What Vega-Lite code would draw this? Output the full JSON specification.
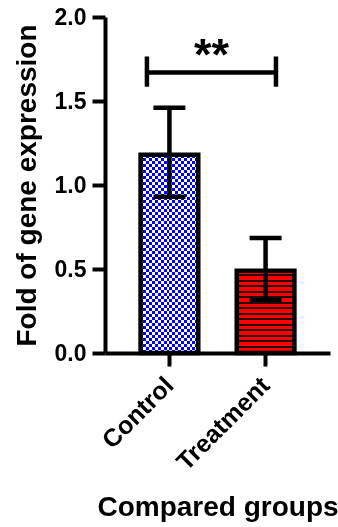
{
  "$schema": "https://vega.github.io/schema/vega-lite/v6.json",
  "width": 225,
  "height": 336,
  "autosize": {"type": "none"},
  "padding": {"left": 105, "top": 17, "right": 8, "bottom": 174},
  "background": "white",
  "config": {
    "view": {"stroke": null},
    "font": "Liberation Sans",
    "axis": {
      "domainColor": "black",
      "domainWidth": 4,
      "tickColor": "black",
      "tickWidth": 4,
      "tickSize": 13,
      "grid": false,
      "labelColor": "black",
      "labelFont": "Liberation Sans",
      "labelFontWeight": "bold",
      "labelFontSize": 23,
      "titleColor": "black",
      "titleFont": "Liberation Sans",
      "titleFontWeight": "bold",
      "titleFontSize": 28
    }
  },
  "datasets": {
    "bars": [
      {"group": "Control", "mean": 1.18, "lo": 0.93, "hi": 1.46},
      {"group": "Treatment", "mean": 0.49, "lo": 0.315, "hi": 0.685}
    ],
    "sig": [
      {"from": "Control", "to": "Treatment", "y": 1.67, "ylo": 1.585, "yhi": 1.765, "ytext": 1.765, "label": "**"}
    ]
  },
  "layer": [
    {
      "data": {"name": "bars"},
      "transform": [{"filter": "datum.group === 'Control'"}],
      "mark": {
        "type": "bar",
        "strokeWidth": 0,
        "fill": {
          "gradient": "linear", "x1": 0, "y1": 0, "x2": 1, "y2": 0,
          "stops": [
            {"offset": 0, "color": "#0000ff"}, {"offset": 0.05, "color": "#0000ff"},
            {"offset": 0.05, "color": "#ffffff"}, {"offset": 0.1, "color": "#ffffff"},
            {"offset": 0.1, "color": "#0000ff"}, {"offset": 0.15, "color": "#0000ff"},
            {"offset": 0.15, "color": "#ffffff"}, {"offset": 0.2, "color": "#ffffff"},
            {"offset": 0.2, "color": "#0000ff"}, {"offset": 0.25, "color": "#0000ff"},
            {"offset": 0.25, "color": "#ffffff"}, {"offset": 0.3, "color": "#ffffff"},
            {"offset": 0.3, "color": "#0000ff"}, {"offset": 0.35, "color": "#0000ff"},
            {"offset": 0.35, "color": "#ffffff"}, {"offset": 0.4, "color": "#ffffff"},
            {"offset": 0.4, "color": "#0000ff"}, {"offset": 0.45, "color": "#0000ff"},
            {"offset": 0.45, "color": "#ffffff"}, {"offset": 0.5, "color": "#ffffff"},
            {"offset": 0.5, "color": "#0000ff"}, {"offset": 0.55, "color": "#0000ff"},
            {"offset": 0.55, "color": "#ffffff"}, {"offset": 0.6, "color": "#ffffff"},
            {"offset": 0.6, "color": "#0000ff"}, {"offset": 0.65, "color": "#0000ff"},
            {"offset": 0.65, "color": "#ffffff"}, {"offset": 0.7, "color": "#ffffff"},
            {"offset": 0.7, "color": "#0000ff"}, {"offset": 0.75, "color": "#0000ff"},
            {"offset": 0.75, "color": "#ffffff"}, {"offset": 0.8, "color": "#ffffff"},
            {"offset": 0.8, "color": "#0000ff"}, {"offset": 0.85, "color": "#0000ff"},
            {"offset": 0.85, "color": "#ffffff"}, {"offset": 0.9, "color": "#ffffff"},
            {"offset": 0.9, "color": "#0000ff"}, {"offset": 0.95, "color": "#0000ff"},
            {"offset": 0.95, "color": "#ffffff"}, {"offset": 1, "color": "#ffffff"}
          ]
        }
      },
      "encoding": {
        "x": {
          "field": "group", "type": "nominal",
          "scale": {"domain": ["Control", "Treatment"], "paddingInner": 0.4, "paddingOuter": 0.37},
          "axis": {"labelAngle": -45, "labelAlign": "right", "labelBaseline": "middle", "labelPadding": 15, "labelFontSize": 25, "titleY": 162, "titleBaseline": "alphabetic"},
          "title": "Compared groups"
        },
        "y": {
          "field": "mean", "type": "quantitative",
          "scale": {"domain": [0, 2], "nice": false},
          "axis": {"values": [0, 0.5, 1, 1.5, 2], "format": ".1f", "labelPadding": 6, "titleX": -70, "titleBaseline": "alphabetic"},
          "title": "Fold of gene expression"
        }
      }
    },
    {
      "data": {"name": "bars"},
      "transform": [{"filter": "datum.group === 'Control'"}],
      "mark": {
        "type": "bar",
        "strokeWidth": 0,
        "blend": "difference",
        "fill": {
          "gradient": "linear", "x1": 0, "y1": 0, "x2": 0, "y2": 1,
          "stops": [
            {"offset": 0, "color": "#000000"}, {"offset": 0.01515, "color": "#000000"},
            {"offset": 0.01515, "color": "#ffff00"}, {"offset": 0.0303, "color": "#ffff00"},
            {"offset": 0.0303, "color": "#000000"}, {"offset": 0.04545, "color": "#000000"},
            {"offset": 0.04545, "color": "#ffff00"}, {"offset": 0.06061, "color": "#ffff00"},
            {"offset": 0.06061, "color": "#000000"}, {"offset": 0.07576, "color": "#000000"},
            {"offset": 0.07576, "color": "#ffff00"}, {"offset": 0.09091, "color": "#ffff00"},
            {"offset": 0.09091, "color": "#000000"}, {"offset": 0.10606, "color": "#000000"},
            {"offset": 0.10606, "color": "#ffff00"}, {"offset": 0.12121, "color": "#ffff00"},
            {"offset": 0.12121, "color": "#000000"}, {"offset": 0.13636, "color": "#000000"},
            {"offset": 0.13636, "color": "#ffff00"}, {"offset": 0.15152, "color": "#ffff00"},
            {"offset": 0.15152, "color": "#000000"}, {"offset": 0.16667, "color": "#000000"},
            {"offset": 0.16667, "color": "#ffff00"}, {"offset": 0.18182, "color": "#ffff00"},
            {"offset": 0.18182, "color": "#000000"}, {"offset": 0.19697, "color": "#000000"},
            {"offset": 0.19697, "color": "#ffff00"}, {"offset": 0.21212, "color": "#ffff00"},
            {"offset": 0.21212, "color": "#000000"}, {"offset": 0.22727, "color": "#000000"},
            {"offset": 0.22727, "color": "#ffff00"}, {"offset": 0.24242, "color": "#ffff00"},
            {"offset": 0.24242, "color": "#000000"}, {"offset": 0.25758, "color": "#000000"},
            {"offset": 0.25758, "color": "#ffff00"}, {"offset": 0.27273, "color": "#ffff00"},
            {"offset": 0.27273, "color": "#000000"}, {"offset": 0.28788, "color": "#000000"},
            {"offset": 0.28788, "color": "#ffff00"}, {"offset": 0.30303, "color": "#ffff00"},
            {"offset": 0.30303, "color": "#000000"}, {"offset": 0.31818, "color": "#000000"},
            {"offset": 0.31818, "color": "#ffff00"}, {"offset": 0.33333, "color": "#ffff00"},
            {"offset": 0.33333, "color": "#000000"}, {"offset": 0.34848, "color": "#000000"},
            {"offset": 0.34848, "color": "#ffff00"}, {"offset": 0.36364, "color": "#ffff00"},
            {"offset": 0.36364, "color": "#000000"}, {"offset": 0.37879, "color": "#000000"},
            {"offset": 0.37879, "color": "#ffff00"}, {"offset": 0.39394, "color": "#ffff00"},
            {"offset": 0.39394, "color": "#000000"}, {"offset": 0.40909, "color": "#000000"},
            {"offset": 0.40909, "color": "#ffff00"}, {"offset": 0.42424, "color": "#ffff00"},
            {"offset": 0.42424, "color": "#000000"}, {"offset": 0.43939, "color": "#000000"},
            {"offset": 0.43939, "color": "#ffff00"}, {"offset": 0.45455, "color": "#ffff00"},
            {"offset": 0.45455, "color": "#000000"}, {"offset": 0.4697, "color": "#000000"},
            {"offset": 0.4697, "color": "#ffff00"}, {"offset": 0.48485, "color": "#ffff00"},
            {"offset": 0.48485, "color": "#000000"}, {"offset": 0.5, "color": "#000000"},
            {"offset": 0.5, "color": "#ffff00"}, {"offset": 0.51515, "color": "#ffff00"},
            {"offset": 0.51515, "color": "#000000"}, {"offset": 0.5303, "color": "#000000"},
            {"offset": 0.5303, "color": "#ffff00"}, {"offset": 0.54545, "color": "#ffff00"},
            {"offset": 0.54545, "color": "#000000"}, {"offset": 0.56061, "color": "#000000"},
            {"offset": 0.56061, "color": "#ffff00"}, {"offset": 0.57576, "color": "#ffff00"},
            {"offset": 0.57576, "color": "#000000"}, {"offset": 0.59091, "color": "#000000"},
            {"offset": 0.59091, "color": "#ffff00"}, {"offset": 0.60606, "color": "#ffff00"},
            {"offset": 0.60606, "color": "#000000"}, {"offset": 0.62121, "color": "#000000"},
            {"offset": 0.62121, "color": "#ffff00"}, {"offset": 0.63636, "color": "#ffff00"},
            {"offset": 0.63636, "color": "#000000"}, {"offset": 0.65152, "color": "#000000"},
            {"offset": 0.65152, "color": "#ffff00"}, {"offset": 0.66667, "color": "#ffff00"},
            {"offset": 0.66667, "color": "#000000"}, {"offset": 0.68182, "color": "#000000"},
            {"offset": 0.68182, "color": "#ffff00"}, {"offset": 0.69697, "color": "#ffff00"},
            {"offset": 0.69697, "color": "#000000"}, {"offset": 0.71212, "color": "#000000"},
            {"offset": 0.71212, "color": "#ffff00"}, {"offset": 0.72727, "color": "#ffff00"},
            {"offset": 0.72727, "color": "#000000"}, {"offset": 0.74242, "color": "#000000"},
            {"offset": 0.74242, "color": "#ffff00"}, {"offset": 0.75758, "color": "#ffff00"},
            {"offset": 0.75758, "color": "#000000"}, {"offset": 0.77273, "color": "#000000"},
            {"offset": 0.77273, "color": "#ffff00"}, {"offset": 0.78788, "color": "#ffff00"},
            {"offset": 0.78788, "color": "#000000"}, {"offset": 0.80303, "color": "#000000"},
            {"offset": 0.80303, "color": "#ffff00"}, {"offset": 0.81818, "color": "#ffff00"},
            {"offset": 0.81818, "color": "#000000"}, {"offset": 0.83333, "color": "#000000"},
            {"offset": 0.83333, "color": "#ffff00"}, {"offset": 0.84848, "color": "#ffff00"},
            {"offset": 0.84848, "color": "#000000"}, {"offset": 0.86364, "color": "#000000"},
            {"offset": 0.86364, "color": "#ffff00"}, {"offset": 0.87879, "color": "#ffff00"},
            {"offset": 0.87879, "color": "#000000"}, {"offset": 0.89394, "color": "#000000"},
            {"offset": 0.89394, "color": "#ffff00"}, {"offset": 0.90909, "color": "#ffff00"},
            {"offset": 0.90909, "color": "#000000"}, {"offset": 0.92424, "color": "#000000"},
            {"offset": 0.92424, "color": "#ffff00"}, {"offset": 0.93939, "color": "#ffff00"},
            {"offset": 0.93939, "color": "#000000"}, {"offset": 0.95455, "color": "#000000"},
            {"offset": 0.95455, "color": "#ffff00"}, {"offset": 0.9697, "color": "#ffff00"},
            {"offset": 0.9697, "color": "#000000"}, {"offset": 0.98485, "color": "#000000"},
            {"offset": 0.98485, "color": "#ffff00"}, {"offset": 1, "color": "#ffff00"}
          ]
        }
      },
      "encoding": {
        "x": {"field": "group", "type": "nominal"},
        "y": {"field": "mean", "type": "quantitative"}
      }
    },
    {
      "data": {"name": "bars"},
      "transform": [{"filter": "datum.group === 'Treatment'"}],
      "mark": {
        "type": "bar",
        "strokeWidth": 0,
        "fill": {
          "gradient": "linear", "x1": 0, "y1": 0, "x2": 0, "y2": 1,
          "stops": [
            {"offset": 0, "color": "#ff0000"}, {"offset": 0.0433, "color": "#ff0000"}, {"offset": 0.0433, "color": "#2b0a0a"}, {"offset": 0.0667, "color": "#2b0a0a"},
            {"offset": 0.0667, "color": "#ff0000"}, {"offset": 0.11, "color": "#ff0000"}, {"offset": 0.11, "color": "#2b0a0a"}, {"offset": 0.1333, "color": "#2b0a0a"},
            {"offset": 0.1333, "color": "#ff0000"}, {"offset": 0.1767, "color": "#ff0000"}, {"offset": 0.1767, "color": "#2b0a0a"}, {"offset": 0.2, "color": "#2b0a0a"},
            {"offset": 0.2, "color": "#ff0000"}, {"offset": 0.2433, "color": "#ff0000"}, {"offset": 0.2433, "color": "#2b0a0a"}, {"offset": 0.2667, "color": "#2b0a0a"},
            {"offset": 0.2667, "color": "#ff0000"}, {"offset": 0.31, "color": "#ff0000"}, {"offset": 0.31, "color": "#2b0a0a"}, {"offset": 0.3333, "color": "#2b0a0a"},
            {"offset": 0.3333, "color": "#ff0000"}, {"offset": 0.3767, "color": "#ff0000"}, {"offset": 0.3767, "color": "#2b0a0a"}, {"offset": 0.4, "color": "#2b0a0a"},
            {"offset": 0.4, "color": "#ff0000"}, {"offset": 0.4433, "color": "#ff0000"}, {"offset": 0.4433, "color": "#2b0a0a"}, {"offset": 0.4667, "color": "#2b0a0a"},
            {"offset": 0.4667, "color": "#ff0000"}, {"offset": 0.51, "color": "#ff0000"}, {"offset": 0.51, "color": "#2b0a0a"}, {"offset": 0.5333, "color": "#2b0a0a"},
            {"offset": 0.5333, "color": "#ff0000"}, {"offset": 0.5767, "color": "#ff0000"}, {"offset": 0.5767, "color": "#2b0a0a"}, {"offset": 0.6, "color": "#2b0a0a"},
            {"offset": 0.6, "color": "#ff0000"}, {"offset": 0.6433, "color": "#ff0000"}, {"offset": 0.6433, "color": "#2b0a0a"}, {"offset": 0.6667, "color": "#2b0a0a"},
            {"offset": 0.6667, "color": "#ff0000"}, {"offset": 0.71, "color": "#ff0000"}, {"offset": 0.71, "color": "#2b0a0a"}, {"offset": 0.7333, "color": "#2b0a0a"},
            {"offset": 0.7333, "color": "#ff0000"}, {"offset": 0.7767, "color": "#ff0000"}, {"offset": 0.7767, "color": "#2b0a0a"}, {"offset": 0.8, "color": "#2b0a0a"},
            {"offset": 0.8, "color": "#ff0000"}, {"offset": 0.8433, "color": "#ff0000"}, {"offset": 0.8433, "color": "#2b0a0a"}, {"offset": 0.8667, "color": "#2b0a0a"},
            {"offset": 0.8667, "color": "#ff0000"}, {"offset": 0.91, "color": "#ff0000"}, {"offset": 0.91, "color": "#2b0a0a"}, {"offset": 0.9333, "color": "#2b0a0a"},
            {"offset": 0.9333, "color": "#ff0000"}, {"offset": 0.9767, "color": "#ff0000"}, {"offset": 0.9767, "color": "#2b0a0a"}, {"offset": 1, "color": "#2b0a0a"}
          ]
        }
      },
      "encoding": {
        "x": {"field": "group", "type": "nominal"},
        "y": {"field": "mean", "type": "quantitative"}
      }
    },
    {
      "data": {"name": "bars"},
      "mark": {"type": "bar", "filled": false, "color": "black", "strokeWidth": 4.5},
      "encoding": {
        "x": {"field": "group", "type": "nominal"},
        "y": {"field": "mean", "type": "quantitative"}
      }
    },
    {
      "data": {"name": "bars"},
      "mark": {"type": "rule", "color": "black", "strokeWidth": 4.5},
      "encoding": {
        "x": {"field": "group", "type": "nominal"},
        "y": {"field": "lo", "type": "quantitative"},
        "y2": {"field": "hi"}
      }
    },
    {
      "data": {"name": "bars"},
      "mark": {"type": "tick", "color": "black", "thickness": 4.5, "size": 32, "opacity": 1},
      "encoding": {
        "x": {"field": "group", "type": "nominal"},
        "y": {"field": "hi", "type": "quantitative"}
      }
    },
    {
      "data": {"name": "bars"},
      "mark": {"type": "tick", "color": "black", "thickness": 4.5, "size": 32, "opacity": 1},
      "encoding": {
        "x": {"field": "group", "type": "nominal"},
        "y": {"field": "lo", "type": "quantitative"}
      }
    },
    {
      "data": {"name": "sig"},
      "mark": {"type": "rule", "color": "black", "strokeWidth": 4.5},
      "encoding": {
        "x": {"field": "from", "type": "nominal", "bandPosition": 0.11},
        "y": {"field": "ylo", "type": "quantitative"},
        "y2": {"field": "yhi"}
      }
    },
    {
      "data": {"name": "sig"},
      "mark": {"type": "rule", "color": "black", "strokeWidth": 4.5},
      "encoding": {
        "x": {"field": "to", "type": "nominal", "bandPosition": 0.68},
        "y": {"field": "ylo", "type": "quantitative"},
        "y2": {"field": "yhi"}
      }
    },
    {
      "data": {"name": "sig"},
      "mark": {"type": "rule", "color": "black", "strokeWidth": 4.5},
      "encoding": {
        "x": {"field": "from", "type": "nominal", "bandPosition": 0.11},
        "x2": {"field": "to", "bandPosition": 0.68},
        "y": {"field": "y", "type": "quantitative"}
      }
    },
    {
      "data": {"name": "sig"},
      "mark": {"type": "text", "color": "black", "font": "Liberation Sans", "fontWeight": "bold", "fontSize": 45, "baseline": "middle", "align": "center"},
      "encoding": {
        "x": {"field": "from", "type": "nominal", "bandPosition": 1.229},
        "y": {"field": "ytext", "type": "quantitative"},
        "text": {"field": "label"}
      }
    }
  ]
}
